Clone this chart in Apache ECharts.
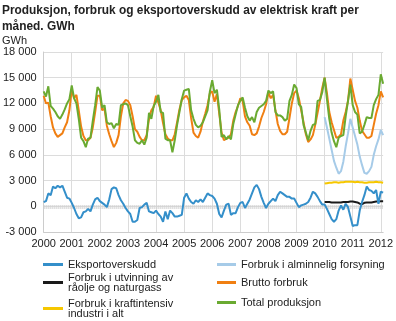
<!DOCTYPE html>
<html>
<head>
<meta charset="utf-8">
<script src="https://cdn.jsdelivr.net/npm/echarts@6/dist/echarts.min.js"></script>
<style>
  html, body { margin: 0; padding: 0; background: #fff; }
  #chart { width: 396px; height: 321px; }
</style>
</head>
<body>
<div id="chart"></div>
<script>
// Monthly figures, GWh, January 2000 – February 2012
const years = [2000, 2001, 2002, 2003, 2004, 2005, 2006, 2007, 2008, 2009, 2010, 2011, 2012];
const yTicks = [-3000, 0, 3000, 6000, 9000, 12000, 15000, 18000];

const totalProduksjon = [
  13400, 12800, 14000, 11700, 11400, 11000, 10500, 10200, 10700, 11300, 12000, 12500,
  14100, 12600, 12000, 10200, 8000, 7600, 6900, 7900, 8000, 10000, 11800, 13900,
  13500, 11500, 11800, 9800, 9600, 9700, 9100, 9600, 9500, 11800, 11900, 12000,
  11800, 10500, 9300, 7700, 7400, 7300, 7700, 7200, 8000, 10900, 10200, 11700,
  12200, 13000, 11000, 10900, 7900, 7700, 7700, 6300, 7700, 9500, 11000, 12500,
  13500, 13600, 13700, 11200, 10200, 9500, 9200, 9400, 9800, 10500, 11200, 13400,
  14700, 13200, 13600, 11300, 8100, 8300, 7800, 8200, 7800, 9600, 10700, 11800,
  12300, 12700, 11500, 10500, 10000, 10400, 9800, 11000, 11500, 11700, 11900, 12300,
  13500, 13200, 13400, 11000, 10600, 10600, 10400, 10000, 10200, 12300, 13000, 14200,
  13800, 11900, 11600, 9500, 8600, 7700, 8800, 9500, 9600, 12300, 12400, 13300,
  15000, 12500, 10200, 8600, 7600, 6900, 8000, 8200, 8300, 10500, 12300, 14200,
  11800, 11000, 10700, 8500, 8700, 9500, 10400, 10300, 10300, 11800, 12500, 13000,
  15400, 14300
];

const bruttoForbruk = [
  12900, 12000, 12100, 10500, 9200, 8500, 8100, 8300, 8500, 9200, 9800, 11200,
  13600, 12600, 13000, 11200, 9300, 8200, 7700, 7700, 8000, 9200, 11000, 12900,
  12900, 11200, 11400, 9400, 8400, 7600, 6900, 7400, 8300, 10500, 12000, 12400,
  12300, 11800, 10500, 9000, 8700, 8100, 7700, 7700, 8300, 10200, 11200, 11600,
  12900, 12100, 11200, 9700, 8400, 7900, 7700, 7700, 8400, 9800, 11300, 12400,
  12700, 12900, 12400, 10300, 8600, 8200, 8000, 8700, 9900, 10800, 11800, 13200,
  13400, 12200, 13100, 10800, 8600, 7700, 7900, 8000, 8400, 10000, 11000, 11700,
  12600, 12300, 10500, 9800, 9400, 8400, 8300, 8500, 9300, 10300, 11000, 11900,
  13300, 12600, 13000, 11200, 9600, 8800, 8400, 8400, 8700, 10300, 12000, 13200,
  13500, 12600, 11200, 9800, 8400, 7500, 7800, 8300, 9500, 10900, 12300, 13800,
  15000, 13200, 11000, 9800, 8900, 8000, 8100, 8400, 10000, 11000, 12300, 14900,
  13600, 12300, 11500, 10000, 8800, 8400, 8000, 8000, 8200, 9500, 10800, 11800,
  13400, 12700
];

const eksportoverskudd = [
  500, 600, 1500, 1300, 2300, 2100, 2400, 2200, 2400, 1700, 1000, 900,
  400, -200, -900, -1400, -1300, -700, -600, -300, -600, 200, 800, 1000,
  600, 400, 200, -100, 800, 2000, 2200, 2100, 1300, 700, 300, -200,
  -600, -900, -1800, -1800, -1600, -200, -100, 200, 400, -600, -700, -800,
  -500, -900, -1200, -1800, -600, -1500, -500, -800, -1200, -1200, -1100, -1000,
  1000, 1500, 900, 500, 300, 700, 500, 800, 500, 1000, 1500, 1300,
  1200, 900, 300, -900, -1300, -500, 200, 300, -1000, -800, -800, -100,
  400, 500, -200, 300, 800, 1500, 2200, 2500, 2000, 1100, 400, -200,
  300, 600, 900, 600, 1300, 1700, 1500, 1300, 1100, 1100, 900, 900,
  400, -100, 100, 200, 300, 500, 1000, 1700, 1500, 1100, 600, 200,
  200, -300, -900, -1500, -1800, -1500, -500, 100, -400, 300, -100, -1200,
  -2300, -2200, -2200, -500, 500, 1300, 2300, 1900, 1800, 1500, 1900, 300,
  1700, 1600
];

// Sector figures start in January 2010
const alminneligForsyning = [
  10400, 9200, 7900, 6600, 5300, 4500, 3800, 4100, 5200, 7000, 8500, 10200,
  9200, 8200, 7200, 5800, 4800, 3900, 3800, 4100, 4600, 6000, 7000, 7800,
  8900, 8300
];
const utvinning = [
  500, 500, 500, 450, 450, 450, 450, 450, 500, 500, 500, 550,
  550, 500, 450, 300, 250, 400, 450, 450, 450, 500, 550, 550,
  600, 600
];
const kraftintensiv = [
  2650, 2700, 2750, 2750, 2800, 2800, 2750, 2800, 2800, 2850, 2850, 2850,
  2850, 2800, 2850, 2800, 2800, 2750, 2750, 2800, 2800, 2800, 2850, 2800,
  2800, 2750
];

// Month categories "2000M01" ... "2012M02"
const months = [];
years.forEach(function (y) {
  for (let m = 1; m <= 12; m++) {
    if (months.length < totalProduksjon.length) {
      months.push(y + 'M' + (m < 10 ? '0' + m : m));
    }
  }
});
const sectorStart = months.indexOf('2010M01');
function fromSectorStart(arr) {
  return months.map(function (_, i) { return i < sectorStart ? null : arr[i - sectorStart]; });
}

const names = {
  eksport: 'Eksportoverskudd',
  utvinning: 'Forbruk i utvinning av råolje og naturgass',
  kraftint: 'Forbruk i kraftintensiv industri i alt',
  almin: 'Forbruk i alminnelig forsyning',
  brutto: 'Brutto forbruk',
  total: 'Total produksjon'
};
const legendText = {};
legendText[names.utvinning] = 'Forbruk i utvinning av\nråolje og naturgass';
legendText[names.kraftint] = 'Forbruk i kraftintensiv\nindustri i alt';

const colors = {
  eksport: '#348fca',
  utvinning: '#1a1a1a',
  kraftint: '#f6c700',
  almin: '#a6cbe8',
  brutto: '#f07f12',
  total: '#6aaa31'
};

const FONT = '"Liberation Sans", Arial, sans-serif';

function fmtThousands(v) {
  const s = String(Math.abs(v)).replace(/\B(?=(\d{3})+(?!\d))/g, ' ');
  return (v < 0 ? '-' : '') + s;
}

function lineSeries(key, data, z) {
  return {
    name: names[key],
    type: 'line',
    data: data,
    showSymbol: false,
    symbol: 'none',
    connectNulls: false,
    z: z,
    lineStyle: { color: colors[key], width: 2 },
    itemStyle: { color: colors[key] },
    emphasis: { disabled: true }
  };
}

function legendAt(key, left, top, w) {
  return {
    data: [names[key]],
    left: left,
    top: top,
    padding: 0,
    icon: 'rect',
    itemWidth: w,
    itemHeight: 3,
    itemGap: 0,
    selectedMode: false,
    formatter: function (n) { return legendText[n] || n; },
    textStyle: { fontFamily: FONT, fontSize: 11, color: '#222', lineHeight: 10 }
  };
}

const eksport = lineSeries('eksport', eksportoverskudd, 5);
// reference band along zero
eksport.markLine = {
  silent: true,
  symbol: 'none',
  label: { show: false },
  lineStyle: { color: '#cfcfcf', width: 4, type: [1, 1] },
  data: [{ yAxis: 0 }]
};

const chart = echarts.init(document.getElementById('chart'), null, { renderer: 'canvas' });
chart.setOption({
  animation: false,
  backgroundColor: '#fff',
  textStyle: { fontFamily: FONT },
  title: {
    text: 'Produksjon, forbruk og eksportoverskudd av elektrisk kraft per\nmåned. GWh',
    left: 2,
    top: 3,
    padding: 0,
    textStyle: { fontFamily: FONT, fontSize: 11.9, fontWeight: 'bold', color: '#222', lineHeight: 16 }
  },
  graphic: [{
    type: 'text',
    left: 2,
    top: 35,
    style: { text: 'GWh', font: '11px ' + FONT, fill: '#222' }
  }],
  legend: [
    legendAt('eksport', 43, 259, 20),
    legendAt('utvinning', 43, 272, 20),
    legendAt('kraftint', 43, 298, 20),
    legendAt('almin', 217, 259, 19),
    legendAt('brutto', 217, 277, 19),
    legendAt('total', 217, 297, 19)
  ],
  grid: { left: 40, right: 12, top: 52, bottom: 89, containLabel: false },
  xAxis: {
    type: 'category',
    data: months,
    boundaryGap: false,
    axisLine: { show: true, onZero: false, lineStyle: { color: '#cccccc', width: 1 } },
    axisTick: { show: false },
    axisLabel: {
      interval: function (i) { return i % 12 === 0; },
      formatter: function (v) { return v.slice(0, 4); },
      fontFamily: FONT, fontSize: 11, color: '#222', margin: 6
    },
    splitLine: {
      show: true,
      interval: function (i) { return i % 12 === 0; },
      lineStyle: { color: '#dcdcdc', width: 1 }
    }
  },
  yAxis: {
    type: 'value',
    min: yTicks[0],
    max: yTicks[yTicks.length - 1],
    interval: 3000,
    axisLine: { show: true, lineStyle: { color: '#cccccc' } },
    axisTick: { show: false },
    axisLabel: {
      formatter: fmtThousands,
      fontFamily: FONT, fontSize: 11, color: '#222', margin: 7
    },
    splitLine: { show: true, lineStyle: { color: '#dcdcdc', width: 1 } }
  },
  series: [
    eksport,
    lineSeries('utvinning', fromSectorStart(utvinning), 4),
    lineSeries('kraftint', fromSectorStart(kraftintensiv), 4),
    lineSeries('almin', fromSectorStart(alminneligForsyning), 3),
    lineSeries('brutto', bruttoForbruk, 3),
    lineSeries('total', totalProduksjon, 4)
  ]
});
</script>
</body>
</html>
